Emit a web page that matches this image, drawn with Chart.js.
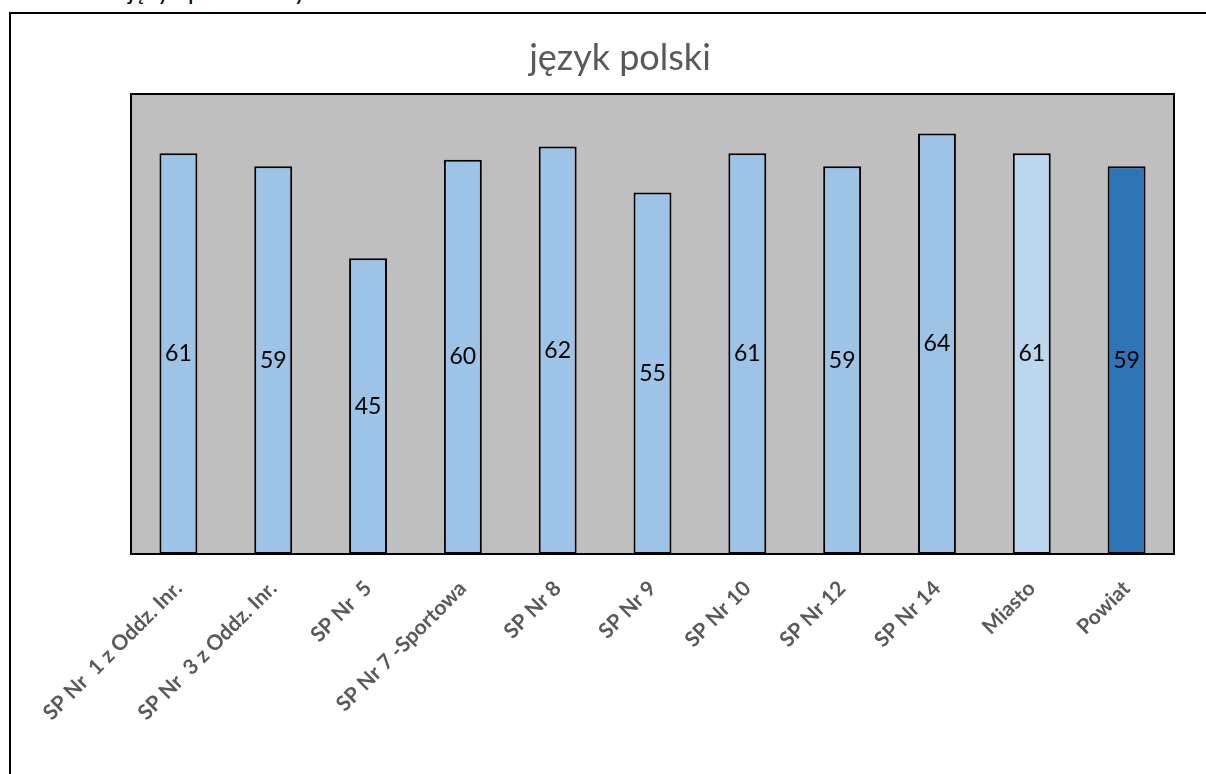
<!DOCTYPE html>
<html>
<head>
<meta charset="utf-8">
<script src="https://cdn.jsdelivr.net/npm/chart.js@4/dist/chart.umd.min.js"></script>
<style>
  html, body { margin: 0; padding: 0; background: #fff; width: 1206px; height: 774px; overflow: hidden; }
  #frame { position: absolute; left: 9px; top: 12px; width: 1300px; height: 900px; border-left: 2px solid #000; border-top: 2px solid #000; box-sizing: border-box; }
  #heading { position: absolute; left: 128px; top: -24px; font: 24px Lato, sans-serif; color: #000; line-height: 30px; white-space: nowrap; }
  #wrap { position: absolute; left: 0; top: 0; width: 1206px; height: 774px; }
</style>
</head>
<body>
<div id="heading">język polski – wyniki</div>
<div id="frame"></div>
<div id="wrap"><canvas id="c" width="1206" height="774"></canvas></div>
<script>
const chartTitle = 'język polski';
const categories = ['SP Nr  1 z Oddz. Inr.', 'SP Nr  3 z Oddz. Inr.', 'SP Nr  5', 'SP Nr 7 -Sportowa', 'SP Nr 8', 'SP Nr 9', 'SP Nr 10', 'SP Nr 12', 'SP Nr 14', 'Miasto', 'Powiat'];
const values = [61, 59, 45, 60, 62, 55, 61, 59, 64, 61, 59];
const barColors = ['#9DC3E6', '#9DC3E6', '#9DC3E6', '#9DC3E6', '#9DC3E6', '#9DC3E6', '#9DC3E6', '#9DC3E6', '#9DC3E6', '#BDD7EE', '#2E75B6'];
const yMin = 0;
const yMax = 70;

const plotDecor = {
  id: 'plotDecor',
  beforeDatasetsDraw(chart) {
    const { ctx, chartArea: a } = chart;
    ctx.save();
    ctx.fillStyle = '#BFBFBF';
    ctx.fillRect(a.left, a.top, a.right - a.left, a.bottom - a.top);
    ctx.restore();
  },
  afterDatasetsDraw(chart) {
    const { ctx, chartArea: a } = chart;
    ctx.save();
    ctx.strokeStyle = '#000';
    ctx.lineWidth = 2;
    ctx.strokeRect(a.left, a.top, a.right - a.left, a.bottom - a.top);
    // data labels
    const meta = chart.getDatasetMeta(0);
    ctx.fillStyle = '#000';
    ctx.font = '23px Lato, sans-serif';
    ctx.textAlign = 'center';
    ctx.textBaseline = 'middle';
    meta.data.forEach((bar, i) => {
      ctx.fillText(String(values[i]), bar.x, (bar.y + bar.base) / 2);
    });
    // title
    ctx.fillStyle = '#595959';
    ctx.font = '36px Lato, sans-serif';
    ctx.textBaseline = 'alphabetic';
    ctx.fillText(chartTitle, 620, 70);
    ctx.restore();
  }
};

new Chart(document.getElementById('c'), {
  type: 'bar',
  data: {
    labels: categories,
    datasets: [{
      data: values,
      backgroundColor: barColors,
      borderColor: '#000',
      borderWidth: 2,
      borderSkipped: false,
      barPercentage: 0.4,
      categoryPercentage: 1.0
    }]
  },
  options: {
    responsive: false,
    animation: false,
    layout: { padding: { left: 131, right: 32, top: 94, bottom: 0 } },
    plugins: { legend: { display: false }, title: { display: false }, tooltip: { enabled: false } },
    scales: {
      x: {
        grid: { display: false },
        border: { display: false },
        ticks: {
          autoSkip: false,
          minRotation: 45,
          maxRotation: 45,
          padding: 14,
          color: '#595959',
          font: { family: 'Lato, sans-serif', size: 21, weight: 'bold' }
        },
        afterFit(scale) { scale.height = 220; }
      },
      y: {
        display: false,
        min: yMin,
        max: yMax
      }
    }
  },
  plugins: [plotDecor]
});
</script>
</body>
</html>
